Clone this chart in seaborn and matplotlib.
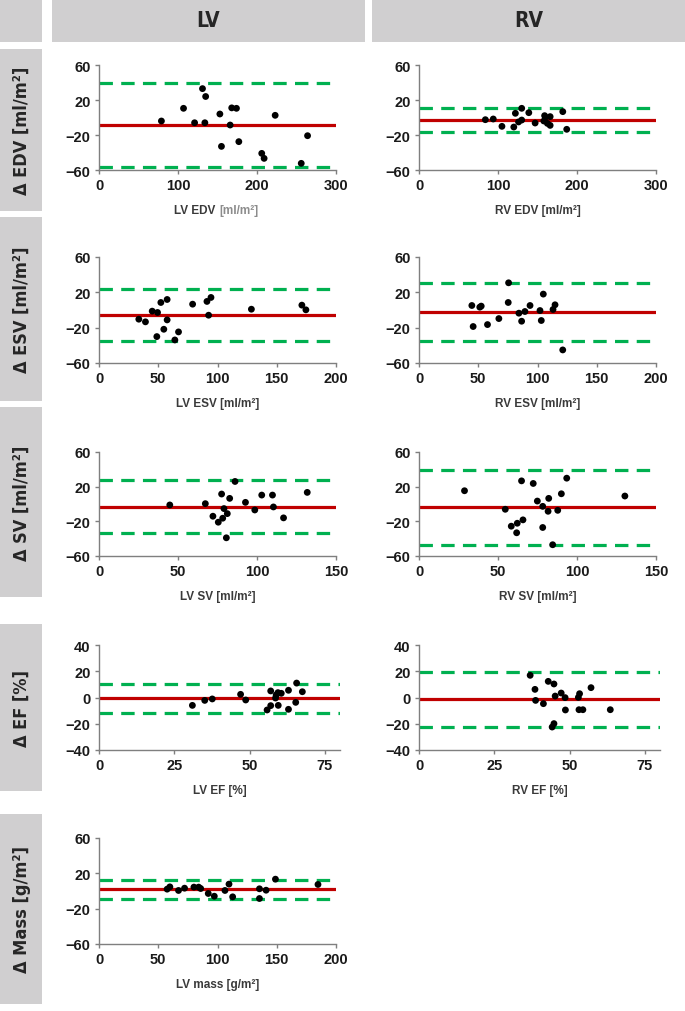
import matplotlib
matplotlib.use("Agg")
import matplotlib.pyplot as plt
import seaborn as sns
import pandas as pd
from matplotlib.patches import Rectangle

# ---------------- data ----------------
lv_edv_x = [79, 107, 121, 131, 135, 134, 153, 155, 168, 174, 166, 177, 206, 209, 223, 256, 264]
lv_edv_y = [-4, 10.5, -6, 33, 24, -6, 4, -33, 11, 10.5, -8.6, -27.6, -41, -46.7, 2.5, -52.4, -20.8]
rv_edv_x = [84, 94, 105, 120, 122, 126, 130, 130, 139, 147, 159, 158, 160, 162.5, 166, 166, 182, 187]
rv_edv_y = [-2.5, -1.7, -10.1, -10.9, 4.8, -5.1, 10.5, -2.9, 5.5, -6.3, 2.1, -4, 0.2, -6.7, 1, -9, 6.7, -13.5]
lv_esv_x = [33.6, 39.2, 44.9, 49.4, 52.2, 57.5, 57.5, 54.7, 48.8, 64, 67.1, 79, 91.1, 94.5, 92.5, 128.6, 171.2, 174.6]
lv_esv_y = [-10.4, -13.4, -1.3, -2.8, 8.5, 11.9, -11.2, -21.8, -30.1, -33.9, -24.8, 6.6, 9.7, 14.2, -5.9, 0.9, 5.5, 0.2]
rv_esv_x = [44.6, 45.7, 51.3, 52.5, 57.8, 67.4, 75.6, 75.3, 84.3, 86.6, 89.4, 93.7, 102.1, 103.2, 104.9, 113.1, 114.8, 121.3]
rv_esv_y = [5.1, -18.7, 3.2, 4.4, -16.5, -9.7, 30.8, 8.5, -3.6, -12.7, -1.7, 5.1, -0.6, -11.9, 18, 0.6, 5.9, -45.2]
lv_sv_x = [44.8, 67.3, 72.1, 75.5, 77.6, 78.3, 79.1, 81.2, 82.7, 86.1, 80.6, 92.7, 98.6, 103, 109.8, 110.4, 116.8, 131.8]
lv_sv_y = [-1.1, 0.4, -14.1, -21, 11.5, -16.4, -5.3, -11.1, 6.5, 26, -39, 1.9, -6.9, 10.3, 10.3, -3.4, -16, 13.4]
rv_sv_x = [28.8, 54.6, 58.4, 61.8, 62.2, 65.8, 64.9, 72.3, 74.9, 78.3, 78.3, 81.7, 82.1, 84.6, 87.8, 90.1, 93.5, 130.3]
rv_sv_y = [15.3, -6.1, -25.6, -33.2, -22.2, -18.3, 26.7, 23.7, 3.4, -2.7, -27.1, -8.4, 6.5, -47, -7.3, 11.8, 29.8, 9.2]
lv_ef_x = [31, 35.1, 37.6, 47, 48.7, 55.8, 57, 57, 58.6, 58.8, 59.4, 59.5, 60.5, 62.9, 62.9, 65.3, 65.6, 67.5]
lv_ef_y = [-6, -2.2, -1.1, 2.4, -1.9, -9.5, -6.2, 5, -0.4, 1.9, 3.7, -6, 3.2, 5.5, -9, -3.7, 11, 4.4]
rv_ef_x = [36.9, 38.5, 38.7, 41.3, 42.9, 44.8, 44.2, 44.8, 45.2, 47.2, 48.5, 48.6, 52.9, 53.3, 53.1, 54.4, 57.1, 63.5]
rv_ef_y = [16.9, 6.2, -2.2, -4.7, 12.3, 10.3, -22.5, -19.9, 1.1, 3.4, -0.1, -9.5, 0.1, 2.9, -9.3, -9.3, 7.5, -9.3]
lv_mass_x = [57.5, 59.8, 67.1, 72.2, 80.1, 84.1, 85.8, 92.2, 97.3, 106.3, 109.7, 112.8, 135.4, 135.4, 141, 148.9, 184.8]
lv_mass_y = [2.1, 4.7, 0.6, 3.2, 4.4, 4.4, 2.8, -2.8, -5.9, 0.6, 7.8, -6.6, 2.5, -8.5, 0.9, 13.4, 7.4]

# bias and limits of agreement
bias = {"lv_edv": -8.6, "rv_edv": -2.5, "lv_esv": -5.5, "rv_esv": -1.7, "lv_sv": -3.1,
        "rv_sv": -3.8, "lv_ef": -0.6, "rv_ef": -1.4, "lv_mass": 2.1}
upper = {"lv_edv": 39.4, "rv_edv": 11.2, "lv_esv": 23.7, "rv_esv": 30.5, "lv_sv": 27.9,
         "rv_sv": 39.4, "lv_ef": 10.3, "rv_ef": 19.7, "lv_mass": 12.7}
lower = {"lv_edv": -57, "rv_edv": -16.6, "lv_esv": -34.6, "rv_esv": -34.6, "lv_sv": -33.2,
         "rv_sv": -47.8, "lv_ef": -11.6, "rv_ef": -22.7, "lv_mass": -8.5}

col_titles = ["LV", "RV"]
row_titles = ["Δ EDV [ml/m²]", "Δ ESV [ml/m²]", "Δ SV [ml/m²]", "Δ EF [%]", "Δ Mass [g/m²]"]
x_labels = {"lv_edv": "LV EDV [ml/m²]", "rv_edv": "RV EDV [ml/m²]", "lv_esv": "LV ESV [ml/m²]",
            "rv_esv": "RV ESV [ml/m²]", "lv_sv": "LV SV [ml/m²]", "rv_sv": "RV SV [ml/m²]",
            "lv_ef": "LV EF [%]", "rv_ef": "RV EF [%]", "lv_mass": "LV mass [g/m²]"}
x_ticks = {"edv": [0, 100, 200, 300], "esv": [0, 50, 100, 150, 200], "sv": [0, 50, 100, 150],
           "ef": [0, 25, 50, 75], "mass": [0, 50, 100, 150, 200]}
x_lims = {"edv": (0, 300), "esv": (0, 200), "sv": (0, 150), "ef": (0, 80), "mass": (0, 200)}
y_ticks_vol = [-60, -20, 20, 60]
y_ticks_ef = [-40, -20, 0, 20, 40]

series = {
    "lv_edv": (lv_edv_x, lv_edv_y), "rv_edv": (rv_edv_x, rv_edv_y),
    "lv_esv": (lv_esv_x, lv_esv_y), "rv_esv": (rv_esv_x, rv_esv_y),
    "lv_sv": (lv_sv_x, lv_sv_y), "rv_sv": (rv_sv_x, rv_sv_y),
    "lv_ef": (lv_ef_x, lv_ef_y), "rv_ef": (rv_ef_x, rv_ef_y),
    "lv_mass": (lv_mass_x, lv_mass_y),
}

# ---------------- style ----------------
sns.set_style("ticks")
plt.rcParams["font.family"] = ["Liberation Sans", "DejaVu Sans"]

W, H = 685, 1012
fig = plt.figure(figsize=(W / 100, H / 100), dpi=100)

GRAY = "#d0cfd0"
cond_font = ["Liberation Sans Narrow", "DejaVu Sans"]


def fig_rect(x0, y0, x1, y1):
    # pixel coords (top-left origin) -> figure rectangle
    r = Rectangle((x0 / W, 1 - y1 / H), (x1 - x0) / W, (y1 - y0) / H,
                  transform=fig.transFigure, facecolor=GRAY, edgecolor="none", zorder=0)
    fig.add_artist(r)


# header boxes
fig_rect(0, 0, 42, 43)
fig_rect(52, 0, 365, 43)
fig_rect(372, 0, 685, 43)
fig.text(208.5 / W, 1 - 21 / H, col_titles[0], ha="center", va="center",
         fontsize=15, fontweight="bold", family=cond_font, fontstretch="condensed")
fig.text(528.5 / W, 1 - 21 / H, col_titles[1], ha="center", va="center",
         fontsize=15, fontweight="bold", family=cond_font, fontstretch="condensed")

# row boxes
row_boxes = [(50, 212), (218, 402), (408, 598), (625, 792), (815, 1005)]
for (y0, y1), t in zip(row_boxes, row_titles):
    fig_rect(0, y0, 42, y1)
    fig.text(22 / W, 1 - (y0 + y1) / 2 / H, t, rotation=90, ha="center", va="center",
             fontsize=13, fontweight="bold", family=cond_font, fontstretch="condensed")

# axes positions (pixels)
row_y = [(66, 171), (258, 364), (453, 557), (646, 751), (839, 945)]
col_x = [99, 419]
keys = [["lv_edv", "rv_edv"], ["lv_esv", "rv_esv"], ["lv_sv", "rv_sv"],
        ["lv_ef", "rv_ef"], ["lv_mass", None]]
kinds = ["edv", "esv", "sv", "ef", "mass"]

for r, (yt, yb) in enumerate(row_y):
    kind = kinds[r]
    for c in range(2):
        key = keys[r][c]
        if key is None:
            continue
        w = 241 if kind == "ef" else 237
        ax = fig.add_axes([col_x[c] / W, 1 - yb / H, w / W, (yb - yt) / H])
        xs, ys = series[key]
        df = pd.DataFrame({"x": xs, "y": ys})
        ax.axhline(upper[key], color="#00b050", lw=2.3, dashes=(4.2, 2.6), zorder=2)
        ax.axhline(lower[key], color="#00b050", lw=2.3, dashes=(4.2, 2.6), zorder=2)
        ax.axhline(bias[key], color="#c00000", lw=2.3, zorder=2)
        sns.scatterplot(data=df, x="x", y="y", ax=ax, color="black", s=24,
                        edgecolor="none", legend=False, zorder=3)
        ax.set_xlim(*x_lims[kind])
        ax.set_xticks(x_ticks[kind])
        if kind == "ef":
            ax.set_ylim(-40, 40)
            ax.set_yticks(y_ticks_ef)
        else:
            ax.set_ylim(-60, 60)
            ax.set_yticks(y_ticks_vol)
        ax.set_xlabel("")
        ax.set_ylabel("")
        sns.despine(ax=ax)
        for s in ["left", "bottom"]:
            ax.spines[s].set_color("#7f7f7f")
            ax.spines[s].set_linewidth(1.0)
        ax.tick_params(axis="both", length=3, width=1.0, color="#7f7f7f", pad=3,
                       labelsize=10.5, labelcolor="#1a1a1a")
        for lab in ax.get_xticklabels() + ax.get_yticklabels():
            lab.set_fontweight("bold")
        ax.set_facecolor("none")
        ylab = -40 / (yb - yt)
        if key == "lv_edv":
            ax.text(0.492, ylab, "LV EDV", transform=ax.transAxes, ha="right", va="center",
                    fontsize=8.5, fontweight="bold", color="#3a3a3a")
            ax.text(0.510, ylab, "[ml/m²]", transform=ax.transAxes, ha="left", va="center",
                    fontsize=8.5, fontweight="bold", color="#8c8c8c")
        else:
            ax.text(0.5, ylab, x_labels[key], transform=ax.transAxes, ha="center", va="center",
                    fontsize=8.5, fontweight="bold", color="#3a3a3a")

fig.savefig("out.png", dpi=100)
